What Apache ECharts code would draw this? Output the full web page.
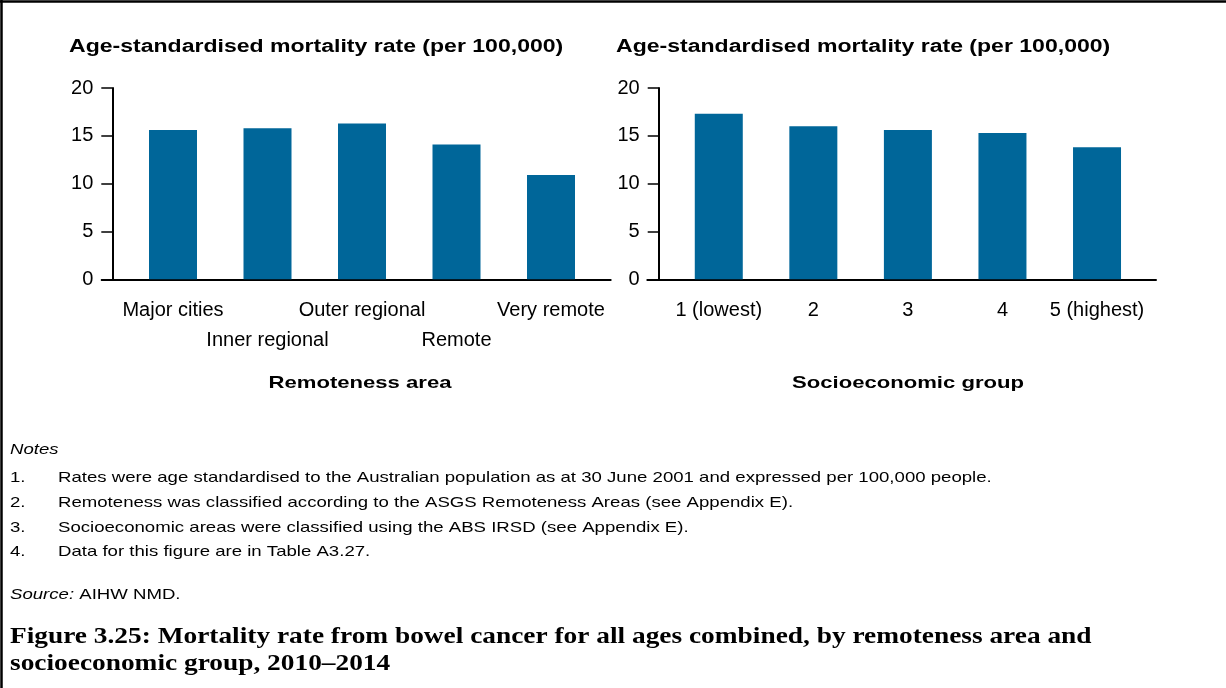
<!DOCTYPE html>
<html>
<head>
<meta charset="utf-8">
<script src="https://cdn.jsdelivr.net/npm/echarts@6/dist/echarts.min.js"></script>
<style>
  html, body { margin: 0; padding: 0; background: #fff; }
  #chart { width: 1226px; height: 688px; }
</style>
</head>
<body>
<div id="chart"></div>
<script>
// Age-standardised bowel cancer mortality, 2010–2014 (per 100,000)
const remotenessAreas = ['Major cities', 'Inner regional', 'Outer regional', 'Remote', 'Very remote'];
const remotenessRates = [15.6, 15.8, 16.3, 14.1, 10.9];

const socioGroups = ['1 (lowest)', '2', '3', '4', '5 (highest)'];
const socioRates = [17.3, 16.0, 15.6, 15.3, 13.8];

const rateMin = 0;
const rateMax = 20;
const rateStep = 5;

const panelTitle = 'Age-standardised mortality rate (per 100,000)';
const remotenessTitle = 'Remoteness area';
const socioTitle = 'Socioeconomic group';

const notesHeading = 'Notes';
const notes = [
  'Rates were age standardised to the Australian population as at 30 June 2001 and expressed per 100,000 people.',
  'Remoteness was classified according to the ASGS Remoteness Areas (see Appendix E).',
  'Socioeconomic areas were classified using the ABS IRSD (see Appendix E).',
  'Data for this figure are in Table A3.27.'
];
const sourceLabel = 'Source:';
const sourceText = ' AIHW NMD.';
const captionLines = [
  'Figure 3.25: Mortality rate from bowel cancer for all ages combined, by remoteness area and',
  'socioeconomic group, 2010\u20132014'
];

const BAR_COLOR = '#006699';
const SANS = '"Liberation Sans", Arial, sans-serif';
const SERIF = '"Liberation Serif", "Times New Roman", serif';
const NOTE_SCALE = 1.24;

const chart = echarts.init(document.getElementById('chart'), null, { renderer: 'canvas' });

const plotTop = 88;
const plotBottom = 688 - 279.3;

function valueAxis(gridIndex, offset, show) {
  return {
    type: 'value', gridIndex, min: rateMin, max: rateMax, interval: rateStep,
    show, offset,
    splitLine: { show: false },
    axisLine: { show: true, lineStyle: { color: '#000', width: 2 } },
    axisTick: { show: true, inside: false, length: 11, lineStyle: { color: '#000', width: 1.5 } },
    axisLabel: { color: '#000', fontFamily: SANS, fontSize: 20, margin: 19 }
  };
}

function categoryAxis(gridIndex, data, stagger) {
  return {
    type: 'category', gridIndex, data,
    axisLine: { show: false },
    axisTick: { show: false },
    axisLabel: {
      interval: 0, color: '#000', fontFamily: SANS, fontSize: 20,
      lineHeight: 30, margin: 16,
      formatter: (v, i) => (stagger && i % 2 === 1 ? '\n' + v : v)
    }
  };
}

// Bare axis used only to draw the longer baseline under each panel
function lineAxis(gridIndex) {
  return {
    type: 'category', gridIndex, data: [''],
    axisLine: { show: true, lineStyle: { color: '#000', width: 2 } },
    axisTick: { show: false },
    axisLabel: { show: false }
  };
}

const graphics = [
  { type: 'line', shape: { x1: 0, y1: 1.5, x2: 1226, y2: 1.5 }, style: { stroke: '#000', lineWidth: 2.5 } },
  { type: 'line', shape: { x1: 1.5, y1: 0, x2: 1.5, y2: 688 }, style: { stroke: '#000', lineWidth: 2.5 } },
  { type: 'text', x: 69, y: 47, scaleX: 1.28, style: { text: panelTitle, font: 'bold 18px ' + SANS, fill: '#000', textAlign: 'left', textVerticalAlign: 'middle' } },
  { type: 'text', x: 616, y: 47, scaleX: 1.28, style: { text: panelTitle, font: 'bold 18px ' + SANS, fill: '#000', textAlign: 'left', textVerticalAlign: 'middle' } },
  { type: 'text', x: 360, y: 383, scaleX: 1.3, style: { text: remotenessTitle, font: 'bold 17px ' + SANS, fill: '#000', textAlign: 'center', textVerticalAlign: 'middle' } },
  { type: 'text', x: 908, y: 383, scaleX: 1.3, style: { text: socioTitle, font: 'bold 17px ' + SANS, fill: '#000', textAlign: 'center', textVerticalAlign: 'middle' } },
  { type: 'text', x: 10, y: 450, scaleX: NOTE_SCALE, style: { text: notesHeading, font: 'italic 15px ' + SANS, fill: '#000', textVerticalAlign: 'middle' } }
];

notes.forEach((t, i) => {
  const y = 478 + i * 24.7;
  graphics.push({ type: 'text', x: 10, y, scaleX: NOTE_SCALE, style: { text: (i + 1) + '.', font: '15px ' + SANS, fill: '#000', textVerticalAlign: 'middle' } });
  graphics.push({ type: 'text', x: 58, y, scaleX: NOTE_SCALE, style: { text: t, font: '15px ' + SANS, fill: '#000', textVerticalAlign: 'middle' } });
});

graphics.push({
  type: 'text', x: 10, y: 595, scaleX: NOTE_SCALE,
  style: {
    text: '{i|' + sourceLabel + '}{n|' + sourceText + '}',
    fill: '#000', textVerticalAlign: 'middle',
    rich: {
      i: { fontFamily: SANS, fontStyle: 'italic', fontSize: 15, fill: '#000' },
      n: { fontFamily: SANS, fontSize: 15, fill: '#000' }
    }
  }
});

captionLines.forEach((t, i) => {
  graphics.push({ type: 'text', x: 10, y: 637 + i * 27, scaleX: 1.14, style: { text: t, font: 'bold 24px ' + SERIF, fill: '#000', textVerticalAlign: 'middle' } });
});

const option = {
  backgroundColor: '#fff',
  animation: false,
  grid: [
    { left: 125.75, width: 472.5, top: plotTop, bottom: plotBottom },
    { left: 101.7, width: 509, top: plotTop, bottom: plotBottom },
    { left: 671.5, width: 472.8, top: plotTop, bottom: plotBottom },
    { left: 647.3, width: 508.7, top: plotTop, bottom: plotBottom }
  ],
  xAxis: [
    categoryAxis(0, remotenessAreas, true),
    lineAxis(1),
    categoryAxis(2, socioGroups, false),
    lineAxis(3)
  ],
  yAxis: [
    valueAxis(0, 13.45, true),
    valueAxis(1, 0, false),
    valueAxis(2, 12.8, true),
    valueAxis(3, 0, false)
  ],
  series: [
    { type: 'bar', xAxisIndex: 0, yAxisIndex: 0, data: remotenessRates, barWidth: 48, itemStyle: { color: BAR_COLOR } },
    { type: 'bar', xAxisIndex: 2, yAxisIndex: 2, data: socioRates, barWidth: 48, itemStyle: { color: BAR_COLOR } }
  ],
  graphic: graphics
};

chart.setOption(option);
</script>
</body>
</html>
